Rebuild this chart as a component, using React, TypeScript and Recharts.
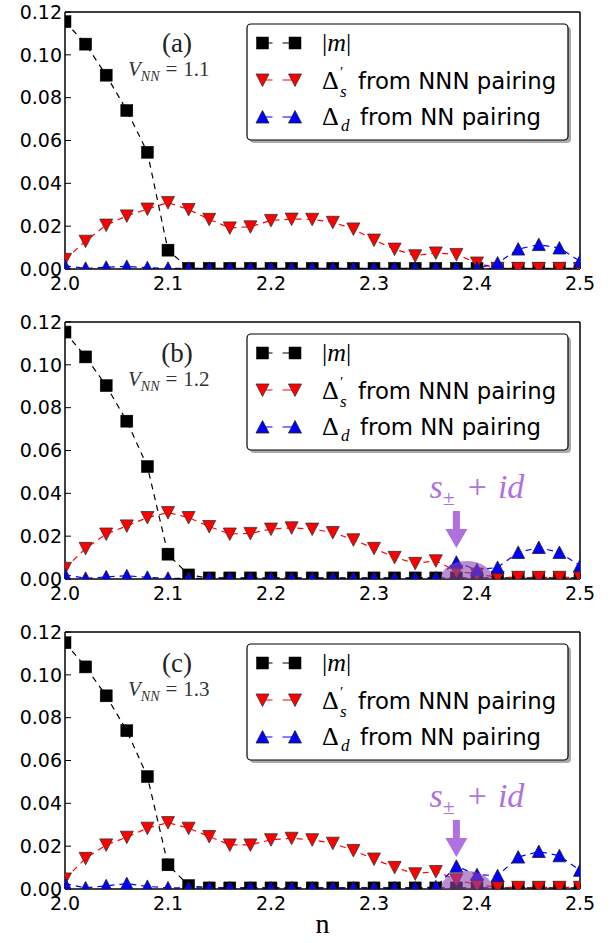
import React from 'react'
import { LineChart, Line, XAxis, YAxis, ReferenceDot } from 'recharts'

// filling n = 2.00 ... 2.50, step 0.02
const nValues = [
  2.0, 2.02, 2.04, 2.06, 2.08, 2.1, 2.12, 2.14, 2.16, 2.18, 2.2, 2.22, 2.24,
  2.26, 2.28, 2.3, 2.32, 2.34, 2.36, 2.38, 2.4, 2.42, 2.44, 2.46, 2.48, 2.5,
]

// (a) V_NN = 1.1
const magA = [
  0.1155, 0.105, 0.0905, 0.074, 0.0545, 0.0088, 0.0003, 0.0003, 0.0003, 0.0003, 0.0003, 0.0003, 0.0003,
  0.0003, 0.0003, 0.0003, 0.0003, 0.0003, 0.0003, 0.0003, 0.0003, 0.0003, 0.0003, 0.0003, 0.0003, 0.0003,
]
const nnnA = [
  0.0045, 0.013, 0.0205, 0.0248, 0.028, 0.031, 0.0278, 0.0232, 0.0192, 0.0197, 0.0227, 0.0233, 0.0232,
  0.0218, 0.0187, 0.0135, 0.0093, 0.0062, 0.0075, 0.0068, 0.0028, 0.0003, 0.0003, 0.0003, 0.0003, 0.0003,
]
const nnA = [
  0.0015, 0.0003, 0.0008, 0.0012, 0.0006, 0.0003, 0.0003, 0.0003, 0.0003, 0.0003, 0.0003, 0.0003, 0.0003,
  0.0003, 0.0003, 0.0003, 0.0003, 0.0003, 0.0003, 0.0003, 0.0003, 0.0028, 0.0093, 0.0114, 0.0098, 0.0036,
]

// (b) V_NN = 1.2
const magB = [
  0.1153, 0.1037, 0.0903, 0.0737, 0.0525, 0.0116, 0.0019, 0.0005, 0.0005, 0.0005, 0.0005, 0.0005, 0.0005,
  0.0005, 0.0005, 0.0005, 0.0005, 0.0005, 0.0005, 0.0005, 0.0005, 0.0005, 0.0005, 0.0005, 0.0005, 0.0005,
]
const nnnB = [
  0.005, 0.0143, 0.021, 0.0248, 0.0287, 0.031, 0.0287, 0.0245, 0.021, 0.0213, 0.0233, 0.0239, 0.0233,
  0.0217, 0.0183, 0.0143, 0.0101, 0.0073, 0.0085, 0.0036, 0.0023, 0.0008, 0.0008, 0.0008, 0.0008, 0.0008,
]
const nnB = [
  0.002, 0.0003, 0.001, 0.0015, 0.0008, 0.0003, 0.0003, 0.0003, 0.0003, 0.0003, 0.0003, 0.0003, 0.0003,
  0.0003, 0.0003, 0.0003, 0.0003, 0.0003, 0.0005, 0.0078, 0.0043, 0.0054, 0.0124, 0.0147, 0.0124, 0.0062,
]

// (c) V_NN = 1.3
const magC = [
  0.115, 0.1037, 0.0902, 0.0739, 0.0525, 0.0113, 0.0016, 0.0005, 0.0005, 0.0005, 0.0005, 0.0005, 0.0005,
  0.0005, 0.0005, 0.0005, 0.0005, 0.0005, 0.0005, 0.0005, 0.0005, 0.0005, 0.0005, 0.0005, 0.0005, 0.0005,
]
const nnnC = [
  0.0047, 0.0143, 0.0206, 0.0242, 0.0284, 0.031, 0.0284, 0.0245, 0.0206, 0.0206, 0.023, 0.0237, 0.023,
  0.0214, 0.018, 0.014, 0.0101, 0.0071, 0.0082, 0.0043, 0.002, 0.0008, 0.0008, 0.0008, 0.0008, 0.0008,
]
const nnC = [
  0.0025, 0.0005, 0.0015, 0.0025, 0.0012, 0.0005, 0.0005, 0.0005, 0.0005, 0.0005, 0.0005, 0.0005, 0.0005,
  0.0005, 0.0005, 0.0005, 0.0005, 0.0005, 0.001, 0.0106, 0.0067, 0.0062, 0.0149, 0.0175, 0.0155, 0.0087,
]

const xTicks = [2.0, 2.1, 2.2, 2.3, 2.4, 2.5]
const yTicks = [0, 0.02, 0.04, 0.06, 0.08, 0.1, 0.12]
const panelTags = ['(a)', '(b)', '(c)']
const vnnValues = ['1.1', '1.2', '1.3']
// s± + id arrow: n where it points and the value of the arrow tip
const arrowN = [null, 2.38, 2.38]
const arrowTip = [null, 0.0145, 0.0149]
const blobN = 2.39

const W = 614
const PURPLE = '#b070e0'
const SANS = 'DejaVu Sans, sans-serif'
const SERIF = 'Liberation Serif, serif'

function rows(m: number[], s: number[], d: number[]) {
  return nValues.map((n, i) => ({ n, m: m[i], s: s[i], d: d[i] }))
}

const panels = [rows(magA, nnnA, nnA), rows(magB, nnnB, nnB), rows(magC, nnnC, nnC)]

function square(cx: number, cy: number) {
  return <rect x={cx - 6} y={cy - 6} width={12} height={12} fill="#000" stroke="#000" strokeWidth={0.5} />
}
function triDown(cx: number, cy: number) {
  return (
    <polygon points={`${cx - 6.5},${cy - 6} ${cx + 6.5},${cy - 6} ${cx},${cy + 6.5}`}
      fill="#ff0000" stroke="#333" strokeWidth={0.8} />
  )
}
function triUp(cx: number, cy: number) {
  return (
    <polygon points={`${cx - 6.5},${cy + 6} ${cx + 6.5},${cy + 6} ${cx},${cy - 6.5}`}
      fill="#0000ff" stroke="#222" strokeWidth={0.8} />
  )
}

const series = [
  { key: 'm', color: '#000', mark: square },
  { key: 's', color: '#ff0000', mark: triDown },
  { key: 'd', color: '#0000ff', mark: triUp },
]

// markers are clipped to the axes box, like matplotlib does
function clippedDot(mark: (cx: number, cy: number) => React.ReactElement, clipId: string, name: string) {
  return (p: any) => (
    <g key={`${name}-${p.index}`} clipPath={`url(#${clipId})`}>
      {mark(p.cx, p.cy)}
    </g>
  )
}

function Arrow(p: any) {
  const { cx, cy } = p
  return (
    <g>
      <polygon
        points={`${cx},${cy} ${cx - 11},${cy - 19} ${cx - 3.5},${cy - 19} ${cx - 3.5},${cy - 37} ${cx + 3.5},${cy - 37} ${cx + 3.5},${cy - 19} ${cx + 11},${cy - 19}`}
        fill={PURPLE}
      />
      <text x={cx - 27} y={cy - 50} fill={PURPLE} fontFamily={SERIF} fontSize={34}>
        <tspan fontStyle="italic">s</tspan>
        <tspan fontSize={22} dy={7}>±</tspan>
        <tspan dy={-7} dx={13}>+</tspan>
        <tspan fontStyle="italic" dx={11}>id</tspan>
      </text>
    </g>
  )
}

function makeBlob(clipId: string) {
  return (p: any) => (
    <ellipse cx={p.cx} cy={p.cy} rx={26} ry={18} fill="#8e44ad" fillOpacity={0.6} clipPath={`url(#${clipId})`} />
  )
}

function Overlay({ idx, h }: { idx: number; h: number }) {
  const rowsY = [43, 80, 117]
  return (
    <svg width={W} height={h} style={{ position: 'absolute', left: 0, top: 0, pointerEvents: 'none' }}>
      <defs>
        <clipPath id={`plot-${idx}`}>
          <rect x={65} y={12} width={515} height={257} />
        </clipPath>
      </defs>
      <text x={177} y={52} textAnchor="middle" fontFamily={SERIF} fontSize={27} fill="#222">
        {panelTags[idx]}
      </text>
      <text x={128} y={76} fontFamily={SERIF} fontSize={21} fill="#333">
        <tspan fontStyle="italic">V</tspan>
        <tspan fontStyle="italic" fontSize={14} dy={5}>NN</tspan>
        <tspan dy={-5} dx={6}>=</tspan>
        <tspan dx={6}>{vnnValues[idx]}</tspan>
      </text>
      <rect x={250} y={27} width={321} height={116} rx={4} fill="#aaa" />
      <rect x={247} y={24} width={321} height={116} rx={4} fill="#fff" stroke="#000" strokeWidth={1.2} />
      {series.map((s, i) => (
        <g key={s.key}>
          <line x1={262.5} x2={295} y1={rowsY[i]} y2={rowsY[i]} stroke={s.color} strokeWidth={1.2}
            strokeDasharray="10 10" />
          {s.mark(262.5, rowsY[i])}
          {s.mark(295, rowsY[i])}
        </g>
      ))}
      <text x={322} y={51} fontFamily={SERIF} fontSize={26} fill="#000">
        |<tspan fontStyle="italic">m</tspan>|
      </text>
      <text x={322} y={89} fontFamily={SERIF} fontSize={26} fill="#000">Δ</text>
      <text x={340} y={77} fontFamily={SERIF} fontSize={15} fill="#000">′</text>
      <text x={340} y={97} fontFamily={SERIF} fontSize={17} fontStyle="italic" fill="#000">s</text>
      <text x={358} y={89} fontFamily={SANS} fontSize={22.8} fill="#000">from NNN pairing</text>
      <text x={322} y={125} fontFamily={SERIF} fontSize={26} fill="#000">Δ</text>
      <text x={341} y={131} fontFamily={SERIF} fontSize={17} fontStyle="italic" fill="#000">d</text>
      <text x={360} y={125} fontFamily={SANS} fontSize={22.8} fill="#000">from NN pairing</text>
    </svg>
  )
}

const axisLine = { stroke: '#000', strokeWidth: 1.5 }
const tickLine = { stroke: '#000', strokeWidth: 1 }
const tickStyle = { fontSize: 19, fill: '#000', fontFamily: SANS }

function Panel({ idx }: { idx: number }) {
  const last = idx === 2
  const h = last ? 323 : 310
  const an = arrowN[idx]
  const at = arrowTip[idx]
  const clipId = `plot-${idx}`
  return (
    <div style={{ position: 'relative', width: W, height: h }}>
      <LineChart width={W} height={h} data={panels[idx]} margin={{ top: 11, right: 33, bottom: 0, left: 0 }}>
        <XAxis dataKey="n" type="number" domain={[2, 2.5]} ticks={xTicks} allowDataOverflow
          height={last ? 54 : 41} tickSize={-6} tickMargin={14} axisLine={axisLine} tickLine={tickLine}
          tick={tickStyle} tickFormatter={(v: number) => v.toFixed(1)}
          label={last ? { value: 'n', position: 'insideBottom', offset: 10, fontSize: 28, fontFamily: SERIF, fill: '#000' } : undefined} />
        <XAxis xAxisId="top" orientation="top" dataKey="n" type="number" domain={[2, 2.5]} ticks={xTicks}
          allowDataOverflow height={1} tickSize={-6} axisLine={axisLine} tickLine={tickLine} tick={false} />
        <YAxis type="number" domain={[0, 0.12]} ticks={yTicks} allowDataOverflow width={65} tickSize={-6}
          tickMargin={9} axisLine={axisLine} tickLine={tickLine} tick={tickStyle}
          tickFormatter={(v: number) => v.toFixed(2)} />
        <YAxis yAxisId="right" orientation="right" type="number" domain={[0, 0.12]} ticks={yTicks}
          allowDataOverflow width={1} tickSize={-6} axisLine={axisLine} tickLine={tickLine} tick={false} />
        {series.map((s) => (
          <Line key={s.key} dataKey={s.key} type="linear" stroke={s.color} strokeWidth={1.2}
            strokeDasharray="6 5" dot={clippedDot(s.mark, clipId, `${s.key}${idx}`)} activeDot={false}
            isAnimationActive={false} />
        ))}
        {an !== null && (
          <ReferenceDot x={blobN} y={0} r={20} ifOverflow="visible" shape={makeBlob(clipId)} zIndex={700} />
        )}
        {an !== null && (
          <ReferenceDot x={an} y={at as number} r={5} ifOverflow="visible" shape={Arrow} zIndex={700} />
        )}
      </LineChart>
      <Overlay idx={idx} h={h} />
    </div>
  )
}

export default function App() {
  return (
    <div style={{ position: 'absolute', left: 0, top: 0, width: W, height: 943, background: '#fff' }}>
      <Panel idx={0} />
      <Panel idx={1} />
      <Panel idx={2} />
    </div>
  )
}
